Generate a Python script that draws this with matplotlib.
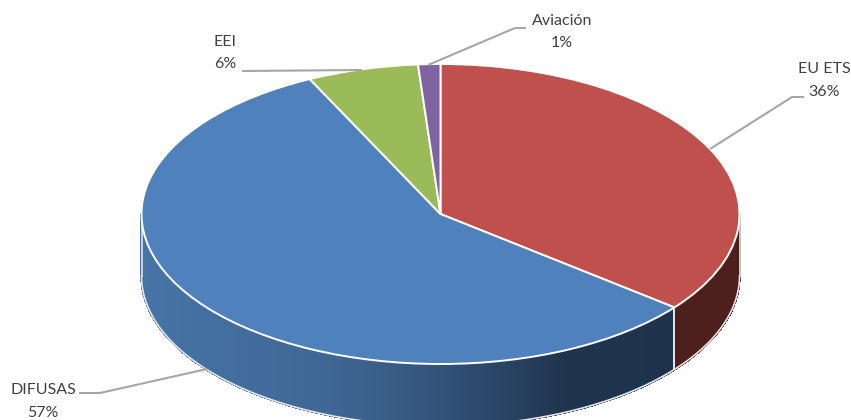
import numpy as np
import matplotlib
matplotlib.use("Agg")
import matplotlib.pyplot as plt
from matplotlib.collections import PolyCollection
from matplotlib.colors import LinearSegmentedColormap

categories = ["EU ETS", "DIFUSAS", "EEI", "Aviación"]
values = [35.7, 57.1, 6.0, 1.2]
colors = ["#C0504D", "#4F81BD", "#9BBB59", "#8064A2"]

W, H = 851, 420
CX, CY, RX, RY, DEPTH = 440.5, 214, 299, 150, 62
px = lambda x, y: ((x - CX) / RX, (CY - y) / RY)

plt.rcParams["font.family"] = ["Lato", "DejaVu Sans"]
fig = plt.figure(figsize=(W / 100, H / 100), dpi=100, facecolor="white")
ax = fig.add_axes([0, 0, 1, 1])

wedges, _ = ax.pie(values, colors=colors, startangle=90, counterclock=False, radius=1,
                   wedgeprops=dict(edgecolor="white", linewidth=1.4))
for w in wedges:
    w.set_zorder(5)
ax.set_aspect("auto")
ax.set_xlim(px(0, 0)[0], px(W, 0)[0])
ax.set_ylim(px(0, H)[1], px(0, 0)[1])
ax.axis("off")

# side wall of the disc
d = DEPTH / RY
boundary = 90 - values[0] * 3.6 + 360          # EU ETS / DIFUSAS edge (math angle)
blue_side = LinearSegmentedColormap.from_list("side", [
    (0.00, "#4674A6"), (0.35, "#3F6795"), (0.50, "#375A83"),
    (0.72, "#263F5E"), (0.80, "#1F344D"), (1.00, "#1E334B")])
th = np.radians(np.linspace(180, 360, 721))
polys, cols = [], []
for a, b in zip(th[:-1], th[1:]):
    xa, xb = np.cos(a), np.cos(b)
    ya, yb = np.sin(a), np.sin(b)
    polys.append([(xa, ya), (xb, yb), (xb, yb - d), (xa, ya - d)])
    mid = np.degrees((a + b) / 2)
    if mid > boundary:
        cols.append("#4D1F1D")
    else:
        xm = (xa + xb) / 2
        xr = np.cos(np.radians(boundary))
        cols.append(blue_side((xm + 1) / (xr + 1)))
ax.add_collection(PolyCollection(polys, facecolors=cols, edgecolors=cols, linewidths=1.0,
                                 antialiaseds=False, zorder=2))

# outline and the vertical seam
t = np.linspace(np.pi, 2 * np.pi, 400)
ax.plot(np.cos(t), np.sin(t) - d, color="#E4E4E4", lw=1.2, zorder=3)
ax.plot([-1, -1], [0, -d], color="#E4E4E4", lw=1.2, zorder=3)
ax.plot([1, 1], [0, -d], color="#E4E4E4", lw=1.2, zorder=3)
br = np.radians(boundary)
ax.plot([np.cos(br)] * 2, [np.sin(br), np.sin(br) - d], color="#E8E8E8", lw=1.4, zorder=3)

# leader lines
leaders = [
    [(710, 149), (792, 97), (804, 97)],
    [(207, 369), (100, 393), (79, 393)],
    [(242, 71), (362, 70)],
    [(428, 65), (515, 28), (526, 28)],
]
for pts in leaders:
    xy = np.array([px(*p) for p in pts])
    ax.plot(xy[:, 0], xy[:, 1], color="#A6A6A6", lw=1.5, zorder=6, solid_capstyle="butt")

# labels
label_pos = [(824, 69, 92), (43, 390, 413), (225, 42, 64), (562, 21, 43)]
for name, v, (x, y1, y2) in zip(categories, values, label_pos):
    for txt, y in ((name, y1), (f"{v:.0f}%", y2)):
        xd, yd = px(x, y)
        ax.text(xd, yd, txt, ha="center", va="center", fontsize=11.5, color="#404040", zorder=7)

fig.savefig("out.png", dpi=100, facecolor="white")
